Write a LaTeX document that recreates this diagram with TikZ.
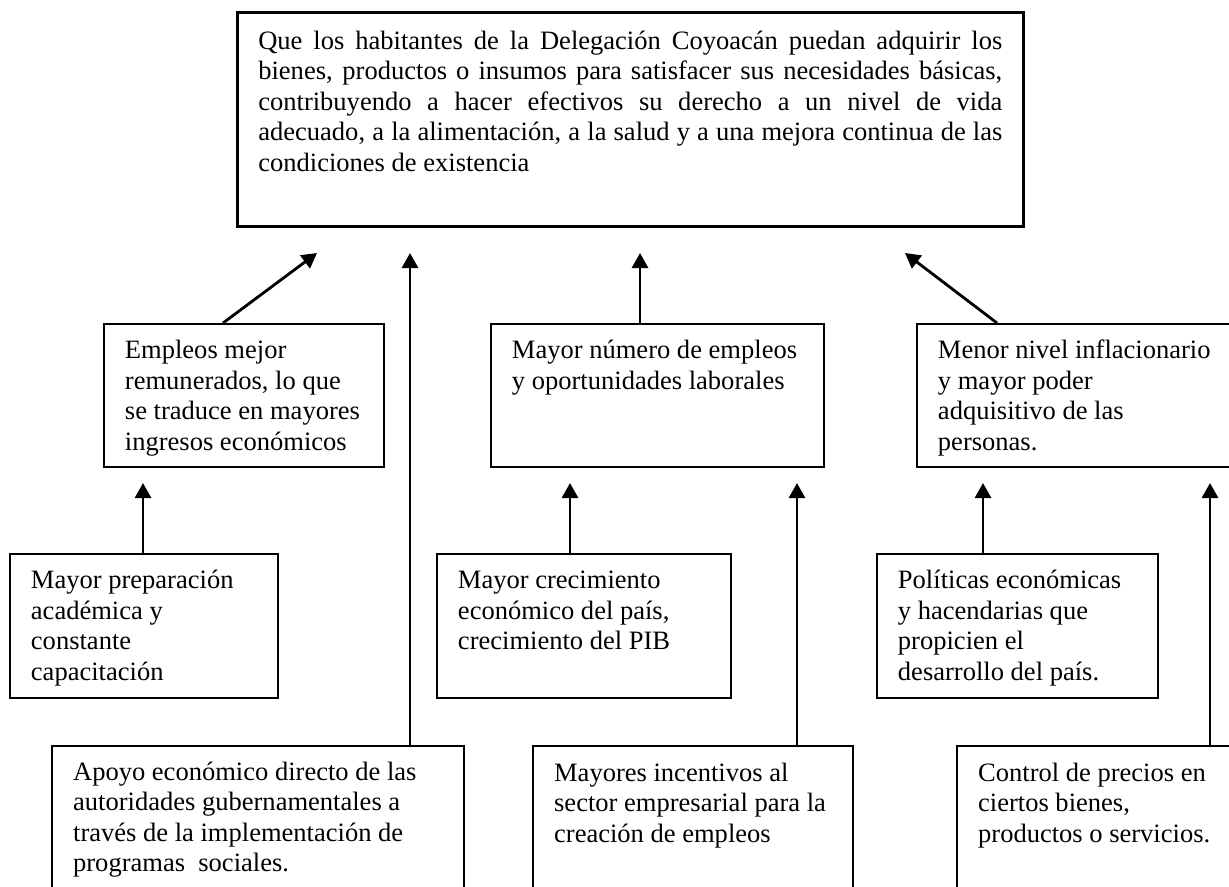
\documentclass[tikz,border=0pt]{standalone}
\usepackage{fontspec}
\setmainfont{Liberation Serif}
\usetikzlibrary{arrows.meta,calc}

\newlength{\pxu}\setlength{\pxu}{0.02cm}
% #1 ancho, #2 alto, #3 primera linea base, #4 texto
\newcommand{\caja}[4]{\begin{minipage}[t][#2\pxu][t]{#1\pxu}\leftskip=21\pxu\rightskip=0pt plus 1fil\rule{0pt}{#3\pxu}#4\end{minipage}}

\begin{document}
\begin{tikzpicture}[x=0.02cm,y=-0.02cm,
  caja/.style={draw,anchor=north west,inner sep=0pt,line width=1.1pt,font=\fontsize{15.1pt}{17.36pt}\selectfont},
  flecha/.style={-{Triangle[length=0.3cm,width=0.32cm]},line width=1.6pt}]
\useasboundingbox (0,0) rectangle (1229,886);
\node[caja,line width=1.5pt] (0) at (236,11) {\begin{minipage}[t][214\pxu][t]{786\pxu}\leftskip=21\pxu\rightskip=21\pxu\rule{0pt}{37\pxu}Que los habitantes de la Delegación Coyoacán puedan adquirir los\linebreak bienes, productos o insumos para satisfacer sus necesidades básicas,\linebreak contribuyendo a hacer efectivos su derecho a un nivel de vida\linebreak adecuado, a la alimentación, a la salud y a una mejora continua de las\linebreak condiciones de existencia\end{minipage}};
\node[caja] (1) at (103,323) {\caja{280}{143}{35}{Empleos mejor\\ remunerados, lo que\\ se traduce en mayores\\ ingresos económicos}};
\node[caja] (2) at (490,323) {\caja{333}{143}{35}{Mayor número de empleos\\ y oportunidades laborales}};
\node[caja] (3) at (916,323) {\caja{330}{143}{35}{Menor nivel inflacionario\\ y mayor poder\\ adquisitivo de las\\ personas.}};
\node[caja] (4) at (9,553) {\caja{268}{144}{35}{Mayor preparación\\ académica y\\ constante\\ capacitación}};
\node[caja] (5) at (436,553) {\caja{294}{144}{35}{Mayor crecimiento\\ económico del país,\\ crecimiento del PIB}};
\node[caja] (6) at (876,553) {\caja{281}{144}{35}{Políticas económicas\\ y hacendarias que\\ propicien el\\ desarrollo del país.}};
\node[caja,line width=1.3pt] (7) at (51,745) {\caja{412}{170}{34}{Apoyo económico directo de las\\ autoridades gubernamentales a\\ través de la implementación de\\ programas\ \ sociales.}};
\node[caja,line width=1.3pt] (8) at (532,745) {\caja{320}{170}{35}{Mayores incentivos al\\ sector empresarial para la\\ creación de empleos}};
\node[caja,line width=1.3pt] (9) at (956,745) {\caja{290}{170}{35}{Control de precios en\\ ciertos bienes,\\ productos o servicios.}};
% puntas de flecha
\coordinate (f1) at (317,253);
\coordinate (f2) at (640,253);
\coordinate (f3) at (905,253);
\coordinate (f7) at (410,253);
\coordinate (f4) at (143,483);
\coordinate (f5) at (570,483);
\coordinate (f6) at (983,483);
\coordinate (f8) at (797,483);
\coordinate (f9) at (1210,483);
\draw[flecha]($(1.north west)+(120,0)$)to(f1);
\draw[flecha](f2|-2.north)to(f2);
\draw[flecha]($(3.north west)+(81,0)$)to(f3);
\draw[flecha](f4|-4.north)to(f4);
\draw[flecha](f5|-5.north)to(f5);
\draw[flecha](f6|-6.north)to(f6);
\draw[flecha](f7|-7.north)to(f7);
\draw[flecha](f8|-8.north)to(f8);
\draw[flecha](f9|-9.north)to(f9);
\end{tikzpicture}
\end{document}
